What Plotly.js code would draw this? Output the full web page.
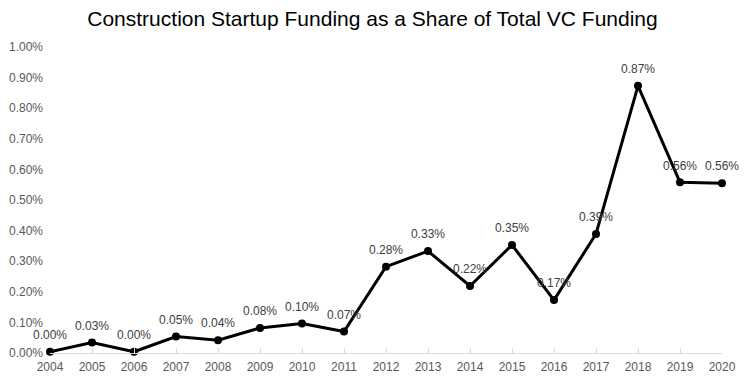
<!DOCTYPE html>
<html>
<head>
<meta charset="utf-8">
<script src="https://cdn.plot.ly/plotly-3.0.1.min.js"></script>
<style>html,body{margin:0;padding:0;background:#fff}#chart{width:745px;height:377px}</style>
</head>
<body>
<div id="chart"></div>
<script>
const years = ['2004','2005','2006','2007','2008','2009','2010','2011','2012','2013','2014','2015','2016','2017','2018','2019','2020'];
const shares = [0.00004,0.00034,0.00004,0.00054,0.00042,0.00082,0.00096,0.00070,0.00282,0.00333,0.00219,0.00353,0.00173,0.00389,0.00873,0.00558,0.00555];

const FONT = 'Liberation Sans, Arial, sans-serif';

const lineTrace = {
  x: years,
  y: shares,
  type: 'scatter',
  mode: 'lines+markers',
  line: {color: '#000000', width: 3},
  marker: {color: '#000000', size: 8},
  cliponaxis: false,
  hoverinfo: 'x+y'
};

const labelTrace = {
  x: years,
  y: shares,
  type: 'scatter',
  mode: 'markers+text',
  marker: {color: 'rgba(0,0,0,0)', size: 14},
  texttemplate: '%{y:.2%}',
  textposition: 'top center',
  textfont: {family: FONT, size: 12, color: '#404040'},
  cliponaxis: false,
  hoverinfo: 'skip'
};

const layout = {
  width: 745, height: 377,
  margin: {l: 50, r: 23, t: 47, b: 24},
  paper_bgcolor: '#ffffff', plot_bgcolor: '#ffffff',
  title: {text: 'Construction Startup Funding as a Share of Total VC Funding',
    font: {family: FONT, size: 21, color: '#000000'},
    x: 0.5, xanchor: 'center', y: 0.95, yanchor: 'middle'},
  showlegend: false,
  xaxis: {type: 'category', range: [0, years.length - 1], showgrid: false, zeroline: false,
    showline: true, linecolor: '#d9d9d9', linewidth: 1,
    ticks: 'inside', ticklen: 5, tickcolor: '#d9d9d9', ticklabelstandoff: 3,
    tickfont: {family: FONT, size: 12, color: '#595959'}},
  yaxis: {range: [0, 0.01], dtick: 0.001, tickformat: '.2%', showgrid: false, zeroline: false,
    showline: false, ticks: '', ticklabelstandoff: 6,
    tickfont: {family: FONT, size: 12, color: '#595959'}}
};

Plotly.newPlot('chart', [lineTrace, labelTrace], layout, {displayModeBar: false, staticPlot: true});
</script>
</body>
</html>
